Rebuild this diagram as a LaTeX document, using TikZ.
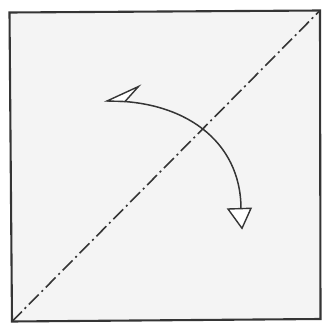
\documentclass[tikz,border=0pt]{standalone}
\definecolor{ink}{HTML}{353535}
\definecolor{paper}{HTML}{F4F4F4}
\tikzset{
  frame/.style={draw=ink, line width=2.1pt, fill=paper, line join=miter},
  foldline/.style={draw=ink, line width=1.6pt, dash pattern=on 14pt off 4pt on 2pt off 4pt},
  arcline/.style={draw=ink, line width=1.5pt},
  headbox/.style={draw=ink, line width=1.4pt, fill=white, line join=miter},
}
\begin{document}
\begin{tikzpicture}[x=1pt,y=-1pt]
\useasboundingbox (0,0) rectangle (325,324);
\fill[white] (0,0) rectangle (325,324);
% square corners
\coordinate (tl) at (9.5,12.5);
\coordinate (tr) at (320,10.5);
\coordinate (br) at (320.5,319);
\coordinate (bl) at (12,321.5);
\path[frame] (tl) -- (tr) -- (br) -- (bl) -- cycle;
% diagonal fold line
\draw[foldline] (bl) -- (tr);
% curved arrow
\coordinate (s) at (107,101);
\coordinate (e) at (241,209);
\draw[arcline] (s) .. controls (183,100) and (241,140) .. (e);
% left half arrowhead
\coordinate (h1) at (138.5,86.5);
\coordinate (h2) at (125,101.5);
\path[headbox] (s) -- (h1) -- (h2) -- cycle;
% bottom arrowhead
\coordinate (b1) at (228,209);
\coordinate (b2) at (251,208.3);
\coordinate (b3) at (242,228.3);
\path[headbox] (b1) -- (b2) -- (b3) -- cycle;
\end{tikzpicture}
\end{document}
